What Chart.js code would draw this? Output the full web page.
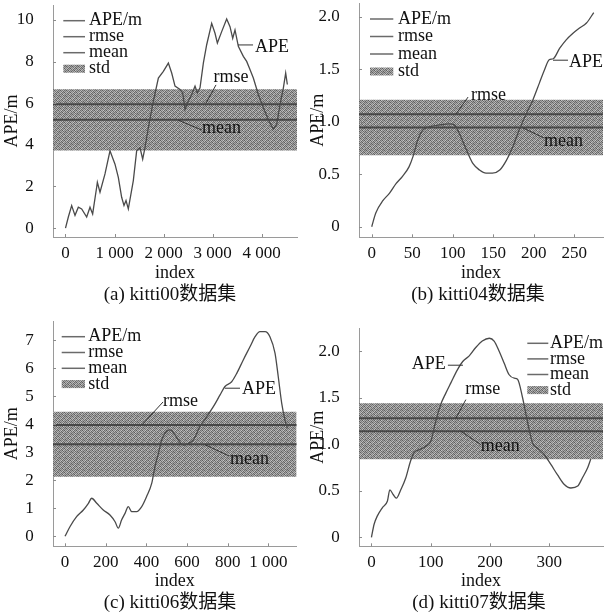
<!DOCTYPE html>
<html><head><meta charset="utf-8">
<script src="https://cdn.jsdelivr.net/npm/chart.js@4.4.1/dist/chart.umd.min.js"></script>
<style>
html,body{margin:0;padding:0;background:#fff;}
#wrap{position:relative;width:613px;height:616px;overflow:hidden;background:#fff;}
canvas{position:absolute;}
.cap{position:absolute;font-family:"Liberation Serif","Noto Sans CJK SC",serif;font-size:19px;color:#111;white-space:nowrap;transform:translate(-50%,-50%);line-height:1;}
</style></head><body>
<div id="wrap">
<canvas id="ca" width="306" height="308" style="left:0;top:0"></canvas>
<canvas id="cb" width="307" height="308" style="left:306px;top:0"></canvas>
<canvas id="cc" width="306" height="308" style="left:0;top:308px"></canvas>
<canvas id="cd" width="307" height="308" style="left:306px;top:308px"></canvas>
<div class="cap" style="left:170px;top:293px">(a) kitti00数据集</div>
<div class="cap" style="left:478px;top:293px">(b) kitti04数据集</div>
<div class="cap" style="left:170px;top:601px">(c) kitti06数据集</div>
<div class="cap" style="left:479px;top:601px">(d) kitti07数据集</div>
</div>
<script>
// ---------- data ----------
const a_index = [0,58,126,194,262,330,432,500,554,636,650,704,806,908,1010,1078,1146,1194,1235,1282,1384,1452,1520,1575,1622,1690,1793,1895,1997,2099,2167,2235,2337,2391,2439,2507,2575,2643,2690,2745,2813,2881,2983,3051,3099,3187,3289,3357,3412,3459,3527,3629,3697,3752,3833,3935,4037,4139,4241,4309,4378,4446,4493,4527];
const a_ape = [0,0.53,1.08,0.61,1.0,0.92,0.53,1.0,0.68,1.96,2.2,1.72,2.6,3.71,3.07,2.44,1.48,1.08,1.32,0.92,2.28,3.71,3.87,3.31,3.87,4.82,6.1,7.21,7.53,7.93,7.45,6.82,6.66,6.5,5.7,6.1,6.42,6.82,6.5,6.74,7.93,8.81,9.84,9.36,8.89,9.44,10.05,9.68,9.12,9.52,8.73,8.25,8.01,7.69,7.21,6.42,5.78,5.22,4.75,4.98,5.94,6.74,7.45,6.9];

const b_index = [0,5,14,22,30,38,46,51,57,63,71,84,96,102,108,117,125,133,141,149,158,166,174,182,191,199,207,213,219,224,232,240,248,256,265,274];
const b_ape = [0,0.13,0.25,0.32,0.41,0.48,0.57,0.67,0.83,0.92,0.95,0.97,0.98,0.97,0.89,0.73,0.60,0.54,0.51,0.51,0.54,0.63,0.76,0.92,1.08,1.21,1.37,1.49,1.59,1.60,1.70,1.78,1.84,1.89,1.94,2.04];

const c_index = [0,25,57,90,115,131,156,188,221,246,262,278,295,311,328,352,377,401,426,442,459,475,491,516,541,557,581,606,631,663,696,729,762,786,819,844,876,909,934,958,983,1007,1032,1048,1065,1081,1093];
const c_ape = [0,0.35,0.70,0.94,1.18,1.36,1.18,0.94,0.76,0.52,0.29,0.58,0.82,1.06,0.88,0.88,1.06,1.42,1.89,2.49,2.96,3.44,3.68,3.80,3.62,3.44,3.26,3.32,3.44,3.92,4.27,4.63,5.05,5.35,5.52,5.82,6.30,6.77,7.13,7.31,7.31,7.13,6.54,5.70,4.75,4.15,3.86];

const d_index = [0,4.5,10,18.6,27,31,36.6,42,49.5,58,66,72,80,92,100,108.6,117,125.5,134,145,154,165,176,187,199,207,215.5,224,232,241,246.5,255,263,272,280,291.5,303,314,325,336.5,348,356,365,370];
const d_ape = [0,0.14,0.23,0.32,0.39,0.51,0.46,0.42,0.51,0.64,0.82,0.91,0.94,0.98,1.03,1.25,1.43,1.55,1.66,1.80,1.89,1.95,2.04,2.11,2.14,2.11,2.0,1.87,1.75,1.71,1.70,1.50,1.25,1.01,0.96,0.89,0.78,0.67,0.57,0.53,0.55,0.64,0.75,0.84];

// statistics per panel (a, b, c, d)
const stat_mean = [5.2, 0.945, 3.29, 1.14];
const stat_rmse = [5.95, 1.07, 3.98, 1.28];
const stat_std  = [1.47, 0.265, 1.16, 0.30];

// tick values and labels
const a_xticks = [0,1000,2000,3000,4000];
const a_xlabels = ['0','1 000','2 000','3 000','4 000'];
const a_yticks = [0,2,4,6,8,10];
const a_ylabels = ['0','2','4','6','8','10'];
const b_xticks = [0,50,100,150,200,250];
const b_xlabels = ['0','50','100','150','200','250'];
const b_yticks = [0,0.5,1,1.5,2];
const b_ylabels = ['0','0.5','1.0','1.5','2.0'];
const c_xticks = [0,200,400,600,800,1000];
const c_xlabels = ['0','200','400','600','800','1 000'];
const c_yticks = [0,1,2,3,4,5,6,7];
const c_ylabels = ['0','1','2','3','4','5','6','7'];
const d_xticks = [0,100,200,300];
const d_xlabels = ['0','100','200','300'];
const d_yticks = [0,0.5,1,1.5,2];
const d_ylabels = ['0','0.5','1.0','1.5','2.0'];

const legendLabels = ['APE/m','rmse','mean','std'];
const xTitle = 'index';
const yTitle = 'APE/m';

// ---------- styling ----------
const FONT = '"Liberation Serif","Noto Sans CJK SC",serif';
Chart.defaults.font.family = FONT;
Chart.defaults.color = '#111';

function makePattern() {
  const tile = [
    [110,180,140,200,125,170],
    [190,130,205,115,185,140],
    [150,210,120,175,105,195],
    [200,115,185,140,200,125],
    [130,175,105,210,150,180],
    [185,140,195,120,175,110]];
  const c = document.createElement('canvas');
  c.width = 6; c.height = 6;
  const g = c.getContext('2d');
  for (let r = 0; r < 6; r++) for (let q = 0; q < 6; q++) {
    const v = tile[r][q] - 14;
    g.fillStyle = `rgb(${v},${v},${v})`;
    g.fillRect(q, r, 1, 1);
  }
  return g.createPattern(c, 'repeat');
}
const PATTERN = makePattern();

const decor = {
  id: 'decor',
  afterDatasetsDraw(chart, args, opts) {
    const {ctx, chartArea: ca} = chart;
    const xs = chart.scales.x, ys = chart.scales.y;
    ctx.save();
    ctx.strokeStyle = '#8c8c8c'; ctx.lineWidth = 1;
    xs.ticks.forEach(t => {
      const px = Math.round(xs.getPixelForValue(t.value)) + 0.5;
      ctx.beginPath(); ctx.moveTo(px, ca.bottom); ctx.lineTo(px, ca.bottom - 3); ctx.stroke();
    });
    ys.ticks.forEach(t => {
      const py = Math.round(ys.getPixelForValue(t.value)) + 0.5;
      ctx.beginPath(); ctx.moveTo(ca.left, py); ctx.lineTo(ca.left + 3, py); ctx.stroke();
    });
    ctx.font = '18px ' + FONT;
    ctx.textBaseline = 'middle';
    (opts.notes || []).forEach(n => {
      ctx.strokeStyle = '#333'; ctx.lineWidth = 1;
      ctx.beginPath();
      ctx.moveTo(xs.getPixelForValue(n.l[0][0]), ys.getPixelForValue(n.l[0][1]));
      ctx.lineTo(xs.getPixelForValue(n.l[1][0]), ys.getPixelForValue(n.l[1][1]));
      ctx.stroke();
      ctx.fillStyle = '#111';
      ctx.textAlign = n.al;
      ctx.fillText(n.t, xs.getPixelForValue(n.at[0]), ys.getPixelForValue(n.at[1]));
    });
    const L = opts.legend;
    const items = chart.data.datasets.filter(d => d.lg !== undefined).sort((p, q) => p.lg - q.lg);
    items.forEach((d, i) => {
      const cy = L.y0 + i * L.gap;
      if (d.lgKind === 'box') {
        ctx.fillStyle = PATTERN;
        ctx.fillRect(L.x0, cy - 4, L.x1 - L.x0, 8);
      } else {
        ctx.strokeStyle = '#6a6a6a'; ctx.lineWidth = 1.5;
        ctx.beginPath(); ctx.moveTo(L.x0, cy); ctx.lineTo(L.x1, cy); ctx.stroke();
      }
      ctx.fillStyle = '#111'; ctx.textAlign = 'left';
      ctx.fillText(d.label, L.tx, cy);
    });
    ctx.restore();
  }
};

const panels = [
  {id:'ca', k:0, idx:a_index, ape:a_ape, xr:[-255,4724], yr:[-0.43,10.72],
   xt:a_xticks, xl:a_xlabels, yt:a_yticks, yl:a_ylabels,
   pad:{left:0, top:5, right:9, bottom:23}, tpb:1.2, smooth:false,
   legend:{x0:63.3, x1:85, tx:89, y0:20.7, gap:16},
   notes:[
     {l:[[3520,8.8],[3827,8.8]], t:'APE', at:[3867,8.67], al:'left'},
     {l:[[2867,6.0],[3071,6.88]], t:'rmse', at:[3378,7.23], al:'center'},
     {l:[[2296,5.19],[2786,4.71]], t:'mean', at:[2786,4.81], al:'left'}]},
  {id:'cb', k:1, idx:b_index, ape:b_ape, xr:[-15.7,285.4], yr:[-0.101,2.128],
   xt:b_xticks, xl:b_xlabels, yt:b_yticks, yl:b_ylabels,
   pad:{left:0, top:3.3, right:10, bottom:22.7}, tpb:1.5, smooth:true,
   legend:{x0:64, x1:87.3, tx:92, y0:19, gap:17.5},
   notes:[
     {l:[[223.7,1.586],[242.2,1.586]], t:'APE', at:[243.4,1.571], al:'left'},
     {l:[[104.1,1.075],[118.9,1.235]], t:'rmse', at:[144,1.254], al:'center'},
     {l:[[186.7,0.94],[212.6,0.845]], t:'mean', at:[212.6,0.81], al:'left'}]},
  {id:'cc', k:2, idx:c_index, ape:c_ape, xr:[-59,1138.6], yr:[-0.357,7.68],
   xt:c_xticks, xl:c_xlabels, yt:c_yticks, yl:c_ylabels,
   pad:{left:0, top:13.3, right:9.3, bottom:21.7}, tpb:2.5, smooth:true,
   legend:{x0:61.7, x1:85, tx:88.3, y0:28.7, gap:15.8},
   notes:[
     {l:[[786,5.29],[860,5.29]], t:'APE', at:[870,5.24], al:'left'},
     {l:[[378,3.98],[482,4.8]], t:'rmse', at:[568,4.83], al:'center'},
     {l:[[688,3.27],[806,2.87]], t:'mean', at:[811,2.74], al:'left'}]},
  {id:'cd', k:3, idx:d_index, ape:d_ape, xr:[-21,390.7], yr:[-0.097,2.25],
   xt:d_xticks, xl:d_xlabels, yt:d_yticks, yl:d_ylabels,
   pad:{left:0, top:20, right:10, bottom:21.7}, tpb:2.5, smooth:true,
   legend:{x0:221.3, x1:242.3, tx:244, y0:35.3, gap:15.6},
   notes:[
     {l:[[129,1.85],[154.4,1.85]], t:'APE', at:[125.5,1.856], al:'right'},
     {l:[[142.4,1.28],[159.3,1.48]], t:'rmse', at:[188,1.587], al:'center'},
     {l:[[150.8,1.14],[184.6,0.996]], t:'mean', at:[184.6,0.978], al:'left'}]}
];

const Y_AXIS_W = 53;
const X_AXIS_H = 48;

panels.forEach(p => {
  const m = stat_mean[p.k], r = stat_rmse[p.k], s = stat_std[p.k];
  const x0 = p.xr[0], x1 = p.xr[1];
  const flat = v => [{x:x0, y:v}, {x:x1, y:v}];
  const apePts = p.idx.map((v, i) => ({x:v, y:p.ape[i]}));
  new Chart(document.getElementById(p.id), {
    type: 'line',
    data: {
      datasets: [
        {label:legendLabels[0], lg:0, data:apePts, borderColor:'#4a4a4a', borderWidth:1.3,
         pointRadius:0, fill:false, tension: p.smooth ? 0.4 : 0,
         cubicInterpolationMode: p.smooth ? 'monotone' : 'default'},
        {label:legendLabels[1], lg:1, data:flat(r), borderColor:'#474747', borderWidth:2, pointRadius:0, fill:false},
        {label:legendLabels[2], lg:2, data:flat(m), borderColor:'#474747', borderWidth:2, pointRadius:0, fill:false},
        {label:'std_low', data:flat(m - s), borderWidth:0, borderColor:'rgba(0,0,0,0)', pointRadius:0, fill:false},
        {label:legendLabels[3], lg:3, lgKind:'box', data:flat(m + s), borderWidth:0, borderColor:'rgba(0,0,0,0)',
         pointRadius:0, fill:'-1', backgroundColor:PATTERN}
      ]
    },
    options: {
      responsive:false, animation:false, devicePixelRatio:1,
      layout:{padding:p.pad},
      plugins:{legend:{display:false}, tooltip:{enabled:false},
        decor:{legend:p.legend, notes:p.notes}},
      scales:{
        x:{type:'linear', min:x0, max:x1,
          afterBuildTicks: sc => { sc.ticks = p.xt.map(v => ({value:v})); },
          afterFit: sc => { sc.height = X_AXIS_H; sc.paddingLeft = 0; sc.paddingRight = 0; },
          ticks:{autoSkip:false, maxRotation:0, padding:-1.5, font:{size:17}, color:'#111',
            callback:(v, i) => p.xl[i]},
          grid:{display:false},
          border:{display:true, color:'#9a9a9a', width:1, dash:[1,1.5]},
          title:{display:true, text:xTitle, font:{size:18}, color:'#111', padding:{top:0, bottom:p.tpb}}
        },
        y:{type:'linear', min:p.yr[0], max:p.yr[1],
          afterBuildTicks: sc => { sc.ticks = p.yt.map(v => ({value:v})); },
          afterFit: sc => { sc.width = Y_AXIS_W; sc.paddingTop = 0; sc.paddingBottom = 0; },
          ticks:{autoSkip:false, padding:11.3, font:{size:17}, color:'#111',
            callback:(v, i) => p.yl[i]},
          grid:{display:false},
          border:{display:true, color:'#9a9a9a', width:1, dash:[1,1.5]},
          title:{display:true, text:yTitle, font:{size:18}, color:'#111', padding:{top:1, bottom:0}}
        }
      }
    },
    plugins:[decor]
  });
});
</script>
</body></html>
